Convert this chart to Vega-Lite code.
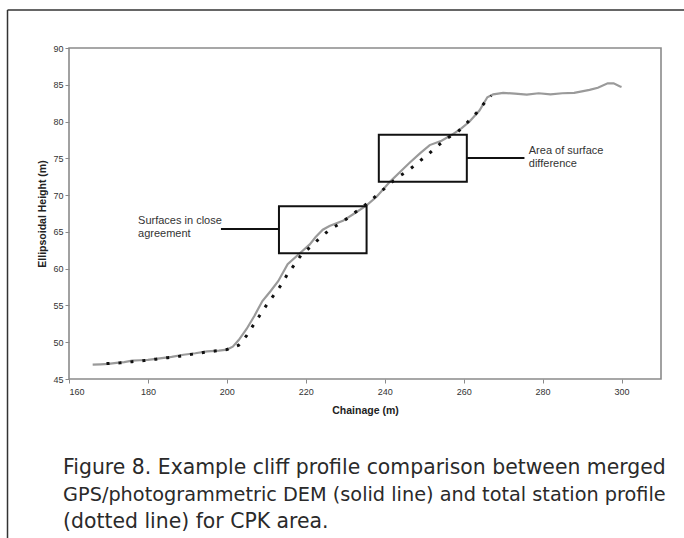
{
  "$schema": "https://vega.github.io/schema/vega-lite/v6.json",
  "autosize": {"type": "none"},
  "width": 592,
  "height": 331,
  "padding": {"left": 69, "top": 48, "right": 23, "bottom": 159},
  "background": "white",
  "config": {
    "view": {"stroke": "#8a8a8a", "strokeWidth": 1.6},
    "font": "Liberation Sans",
    "axis": {"domain": false, "grid": false, "tickColor": "#8a8a8a", "tickSize": 4, "labelColor": "#333", "labelFontSize": 9, "labelOverlap": false, "labelFont": "Liberation Sans", "titleFont": "Liberation Sans", "titleFontSize": 10.5, "titleFontWeight": "bold", "titleColor": "#222"}
  },
  "datasets": {
    "dem": [
      {"x": 166, "y": 46.95}, {"x": 168, "y": 47.0}, {"x": 170, "y": 47.05}, {"x": 172, "y": 47.2}, {"x": 174, "y": 47.3}, {"x": 176, "y": 47.5}, {"x": 178, "y": 47.55}, {"x": 180, "y": 47.6}, {"x": 183, "y": 47.8}, {"x": 186, "y": 48.0}, {"x": 189, "y": 48.3}, {"x": 192, "y": 48.5}, {"x": 195, "y": 48.75}, {"x": 198, "y": 48.85}, {"x": 200, "y": 49.0}, {"x": 201.5, "y": 49.4}, {"x": 203, "y": 50.3}, {"x": 205, "y": 51.8}, {"x": 207, "y": 53.6}, {"x": 209, "y": 55.6}, {"x": 211, "y": 56.9}, {"x": 213, "y": 58.3}, {"x": 215.4, "y": 60.6}, {"x": 218.5, "y": 62.1}, {"x": 221, "y": 63.3}, {"x": 222.5, "y": 64.3}, {"x": 224.3, "y": 65.3}, {"x": 226, "y": 65.8}, {"x": 229.4, "y": 66.5}, {"x": 232, "y": 67.4}, {"x": 235.4, "y": 68.6}, {"x": 238, "y": 69.8}, {"x": 241.3, "y": 71.8}, {"x": 244, "y": 73.2}, {"x": 246.3, "y": 74.4}, {"x": 249, "y": 75.7}, {"x": 251.4, "y": 76.8}, {"x": 254.4, "y": 77.4}, {"x": 257, "y": 78.2}, {"x": 259.5, "y": 79.1}, {"x": 261.5, "y": 80.0}, {"x": 264, "y": 81.5}, {"x": 266, "y": 83.3}, {"x": 267.5, "y": 83.7}, {"x": 270, "y": 83.9}, {"x": 273, "y": 83.8}, {"x": 276, "y": 83.65}, {"x": 279, "y": 83.85}, {"x": 282, "y": 83.7}, {"x": 285, "y": 83.85}, {"x": 288, "y": 83.9}, {"x": 291.9, "y": 84.3}, {"x": 294, "y": 84.6}, {"x": 296.5, "y": 85.2}, {"x": 298, "y": 85.2}, {"x": 299.5, "y": 84.8}, {"x": 300, "y": 84.7}
    ],
    "ts": [
      {"x": 169.5, "y": 47.1}, {"x": 173, "y": 47.2}, {"x": 176, "y": 47.35}, {"x": 179, "y": 47.5}, {"x": 182, "y": 47.7}, {"x": 185, "y": 47.9}, {"x": 188, "y": 48.1}, {"x": 191, "y": 48.35}, {"x": 194, "y": 48.6}, {"x": 197, "y": 48.8}, {"x": 200, "y": 49.0}, {"x": 203, "y": 49.6}, {"x": 205, "y": 50.9}, {"x": 206.8, "y": 52.4}, {"x": 208.4, "y": 53.7}, {"x": 210.1, "y": 55.1}, {"x": 211.9, "y": 56.4}, {"x": 213.9, "y": 57.9}, {"x": 215.4, "y": 59.3}, {"x": 217.2, "y": 60.6}, {"x": 219, "y": 62.0}, {"x": 221.5, "y": 63.1}, {"x": 223.8, "y": 64.3}, {"x": 226.3, "y": 65.4}, {"x": 228.9, "y": 66.2}, {"x": 231.6, "y": 67.3}, {"x": 234.2, "y": 68.3}, {"x": 236.5, "y": 69.3}, {"x": 238.7, "y": 70.3}, {"x": 241, "y": 71.4}, {"x": 243.5, "y": 72.5}, {"x": 246.1, "y": 73.4}, {"x": 248.6, "y": 74.5}, {"x": 251.1, "y": 75.6}, {"x": 253.4, "y": 76.7}, {"x": 256, "y": 77.8}, {"x": 258.5, "y": 78.6}, {"x": 260.8, "y": 79.8}, {"x": 263.3, "y": 81.2}, {"x": 265.5, "y": 82.7}, {"x": 267, "y": 83.5}
    ],
    "boxes": [
      {"x": 213.2, "x2": 235.4, "y": 68.5, "y2": 62.1},
      {"x": 238.5, "x2": 260.8, "y": 78.2, "y2": 71.8}
    ],
    "connectors": [
      {"x": 198.5, "x2": 213.2, "y": 65.4, "y2": 65.4},
      {"x": 260.8, "x2": 275.4, "y": 75.05, "y2": 75.05}
    ],
    "notes": [
      {"x": 177.5, "y": 66.5, "label": "Surfaces in close"},
      {"x": 177.5, "y": 64.7, "label": "agreement"},
      {"x": 276.5, "y": 76.0, "label": "Area of surface"},
      {"x": 276.5, "y": 74.2, "label": "difference"}
    ],
    "caption": [
      {"x": 158.5, "y": 32.9, "label": "Figure 8.  Example cliff profile comparison between merged"},
      {"x": 158.5, "y": 25.56, "label": "(dotted line) for CPK area."}
    ],
    "caption2": [
      {"x": 158.5, "y": 29.23, "label": "GPS/photogrammetric DEM (solid line) and total station profile"}
    ],
    "frame": [
      {"x": 144.42, "x2": 315.83, "y": 95.17, "y2": 95.17},
      {"x": 144.42, "x2": 144.42, "y": 95.17, "y2": 23.38}
    ]
  },
  "encoding": {
    "x": {"field": "x", "type": "quantitative", "scale": {"domain": [160, 310], "nice": false, "zero": false}, "axis": {"title": "Chainage (m)", "values": [160, 180, 200, 220, 240, 260, 280, 300], "labelOverlap": false, "labelPadding": 4, "titlePadding": 9}},
    "y": {"field": "y", "type": "quantitative", "scale": {"domain": [45, 90], "nice": false, "zero": false}, "axis": {"title": "Ellipsoidal Height (m)", "values": [45, 50, 55, 60, 65, 70, 75, 80, 85, 90], "labelOverlap": false, "labelSeparation": 0, "labelFlush": false, "labelPadding": 2, "titlePadding": 5}}
  },
  "layer": [
    {
      "data": {"name": "dem"},
      "mark": {"type": "line", "color": "#9a9a9a", "strokeWidth": 2.2}
    },
    {
      "data": {"name": "ts"},
      "mark": {"type": "line", "color": "#111", "strokeWidth": 3, "strokeDash": [3, 9], "strokeCap": "butt"}
    },
    {
      "data": {"name": "boxes"},
      "mark": {"type": "rect", "fill": null, "fillOpacity": 0, "stroke": "#111", "strokeWidth": 2},
      "encoding": {"x2": {"field": "x2"}, "y2": {"field": "y2"}}
    },
    {
      "data": {"name": "connectors"},
      "mark": {"type": "rule", "color": "#111", "strokeWidth": 2},
      "encoding": {"x2": {"field": "x2"}, "y2": {"field": "y2"}}
    },
    {
      "data": {"name": "notes"},
      "mark": {"type": "text", "align": "left", "baseline": "middle", "fontSize": 11, "font": "Liberation Sans", "color": "#333"},
      "encoding": {"text": {"field": "label"}}
    },
    {
      "data": {"name": "caption"},
      "mark": {"type": "text", "align": "left", "baseline": "middle", "fontSize": 20.4, "font": "DejaVu Sans", "color": "#2a2a2a"},
      "encoding": {"text": {"field": "label"}}
    },
    {
      "data": {"name": "caption2"},
      "mark": {"type": "text", "align": "left", "baseline": "middle", "fontSize": 19.3, "font": "DejaVu Sans", "color": "#2a2a2a"},
      "encoding": {"text": {"field": "label"}}
    },
    {
      "data": {"name": "frame"},
      "mark": {"type": "rule", "color": "#333", "strokeWidth": 1.5},
      "encoding": {"x2": {"field": "x2"}, "y2": {"field": "y2"}}
    }
  ]
}
